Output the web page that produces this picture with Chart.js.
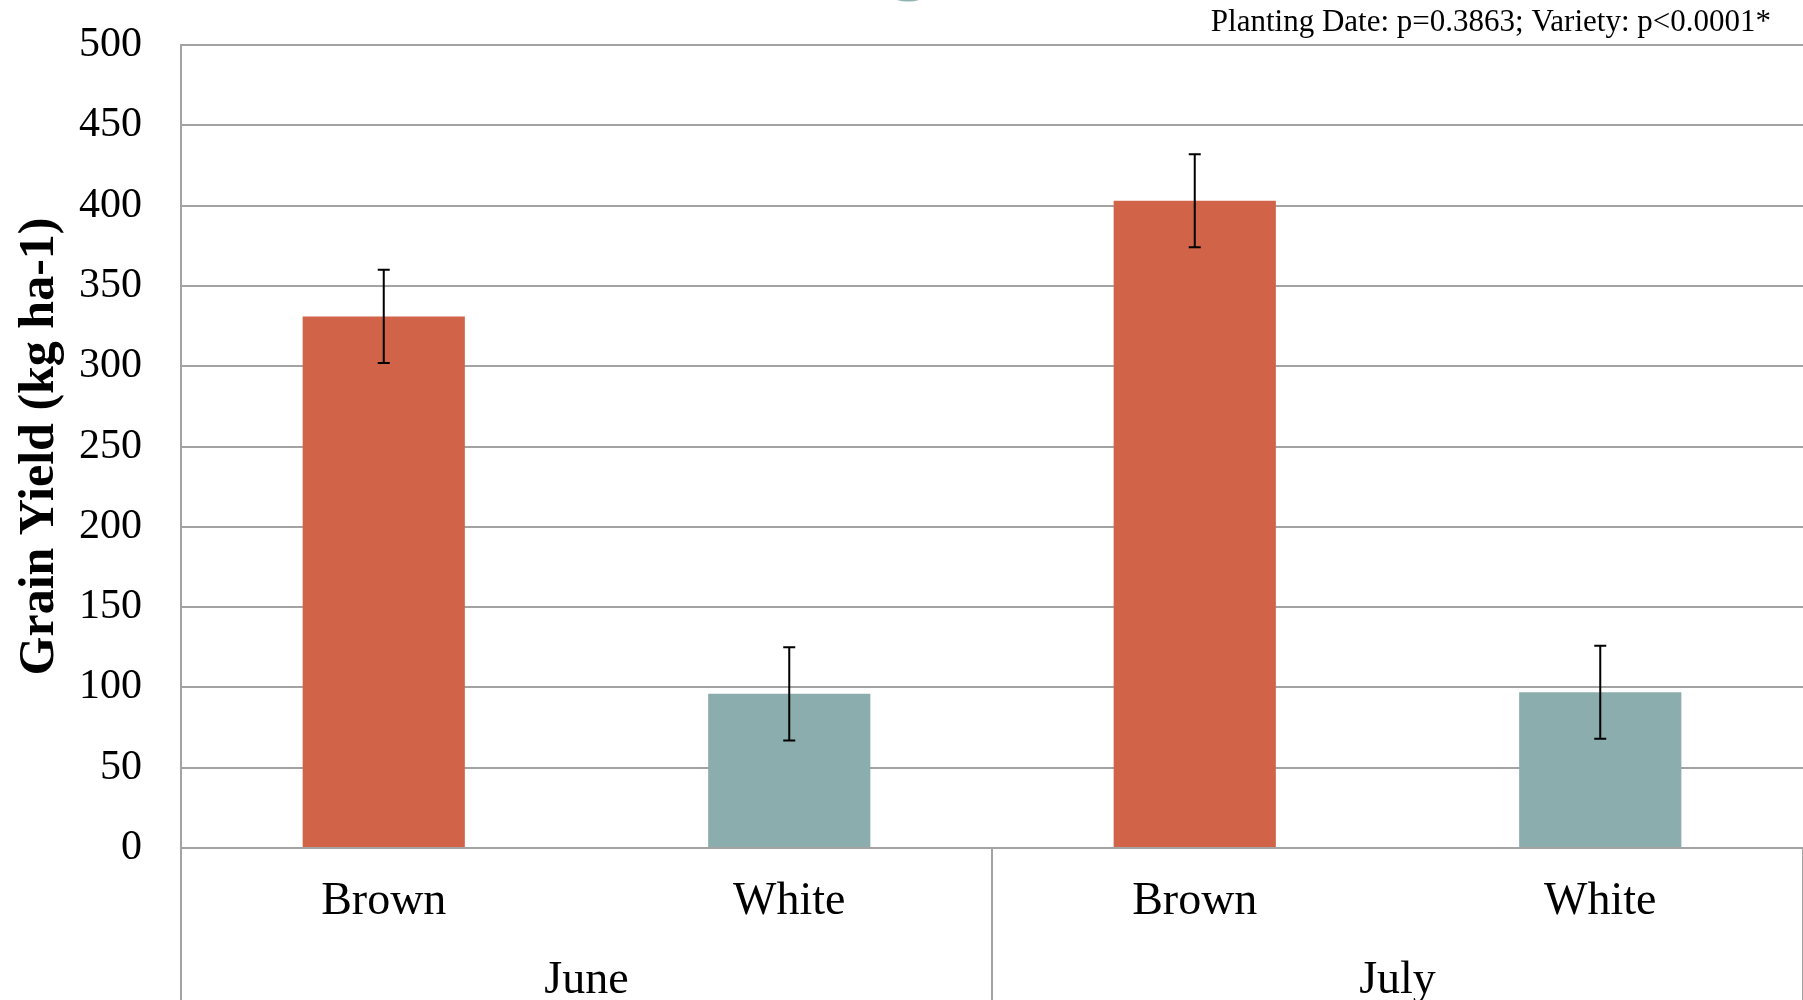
<!DOCTYPE html>
<html>
<head>
<meta charset="utf-8">
<script src="https://cdn.jsdelivr.net/npm/chart.js@4.4.0/dist/chart.umd.min.js"></script>
<style>
  html, body { margin: 0; padding: 0; background: #ffffff; }
  #wrap { width: 1803px; height: 1000px; position: relative; }
</style>
</head>
<body>
<div id="wrap"><canvas id="grafico"></canvas></div>
<script>
// dados do gráfico
var varieties = ['Brown', 'White', 'Brown', 'White'];
var plantingDates = ['June', 'July'];
var yieldMeans = [331, 96, 403, 97];
var yieldErrors = [29, 29, 29, 29];
var statsNote = 'Planting Date: p=0.3863; Variety: p<0.0001*';
var yTitle = 'Grain Yield (kg ha-1)';

var barColors = ['#D16349', '#8BADAD', '#D16349', '#8BADAD'];
var gridColor = '#a3a3a3';
var serif = '"Liberation Serif", "Times New Roman", serif';

// barras de erro
var errorBarsPlugin = {
    id: 'errorBars',
    afterDatasetsDraw: function (chart) {
        var ctx = chart.ctx;
        var y = chart.scales.y;
        var meta = chart.getDatasetMeta(0);
        ctx.save();
        ctx.strokeStyle = '#000000';
        ctx.lineWidth = 2;
        for (var i = 0; i < meta.data.length; i++) {
            var x = meta.data[i].x;
            var top = y.getPixelForValue(yieldMeans[i] + yieldErrors[i]);
            var bot = y.getPixelForValue(yieldMeans[i] - yieldErrors[i]);
            ctx.beginPath();
            ctx.moveTo(x, top); ctx.lineTo(x, bot);
            ctx.moveTo(x - 6, top); ctx.lineTo(x + 6, top);
            ctx.moveTo(x - 6, bot); ctx.lineTo(x + 6, bot);
            ctx.stroke();
        }
        ctx.restore();
    }
};

// rótulos de grupo (June / July), divisórias e nota
var groupLabelsPlugin = {
    id: 'groupLabels',
    afterDraw: function (chart) {
        var ctx = chart.ctx;
        var xs = chart.scales.x;
        var area = chart.chartArea;
        var perGroup = varieties.length / plantingDates.length;
        ctx.save();
        ctx.strokeStyle = gridColor;
        ctx.lineWidth = 2;
        var edges = [xs.left];
        for (var g = 1; g < plantingDates.length; g++) {
            var a = xs.getPixelForValue(g * perGroup - 1);
            var b = xs.getPixelForValue(g * perGroup);
            edges.push((a + b) / 2);
        }
        edges.push(xs.right);
        edges.forEach(function (ex) {
            ctx.beginPath();
            ctx.moveTo(ex, area.bottom);
            ctx.lineTo(ex, chart.height);
            ctx.stroke();
        });
        ctx.fillStyle = '#000000';
        ctx.font = '46px ' + serif;
        ctx.textAlign = 'center';
        ctx.textBaseline = 'middle';
        for (var k = 0; k < plantingDates.length; k++) {
            ctx.fillText(plantingDates[k], (edges[k] + edges[k + 1]) / 2, 981);
        }
        // nota estatística
        ctx.font = '31px ' + serif;
        ctx.textAlign = 'right';
        ctx.textBaseline = 'alphabetic';
        ctx.fillText(statsNote, 1771, 31);
        // pedaço do círculo no topo
        ctx.strokeStyle = '#8fb3b0';
        ctx.lineWidth = 3;
        ctx.beginPath();
        ctx.arc(908, -40, 40, 0.3 * Math.PI, 0.7 * Math.PI);
        ctx.stroke();
        ctx.restore();
    }
};

document.addEventListener("DOMContentLoaded", function () {
    var ctx = document.getElementById('grafico').getContext('2d');
    new Chart(ctx, {
        type: 'bar',
        data: {
            labels: varieties,
            datasets: [{
                data: yieldMeans,
                backgroundColor: barColors,
                borderWidth: 0,
                categoryPercentage: 1.0,
                barPercentage: 0.4
            }]
        },
        options: {
            responsive: true,
            maintainAspectRatio: false,
            animation: false,
            layout: { padding: { top: 45, left: 0, right: 0, bottom: 0 } },
            scales: {
                x: {
                    grid: { display: false, drawTicks: false },
                    border: { display: false },
                    ticks: {
                        color: '#000000',
                        padding: 26,
                        maxRotation: 0,
                        font: { family: serif, size: 46 }
                    },
                    afterFit: function (scale) { scale.height = 152; }
                },
                y: {
                    min: 0,
                    max: 500,
                    grid: {
                        color: gridColor,
                        lineWidth: 2,
                        drawTicks: true,
                        tickLength: 36,
                        tickColor: 'rgba(0,0,0,0)'
                    },
                    border: { display: true, color: gridColor, width: 2 },
                    ticks: {
                        stepSize: 50,
                        color: '#000000',
                        padding: 3,
                        font: { family: serif, size: 42 }
                    },
                    title: {
                        display: true,
                        text: yTitle,
                        color: '#000000',
                        padding: { top: 10, bottom: 0 },
                        font: { family: serif, size: 50, weight: 'bold' }
                    },
                    afterFit: function (scale) { scale.width = 181; }
                }
            },
            plugins: {
                legend: { display: false },
                tooltip: { enabled: false }
            }
        },
        plugins: [errorBarsPlugin, groupLabelsPlugin]
    });
});
</script>
</body>
</html>
